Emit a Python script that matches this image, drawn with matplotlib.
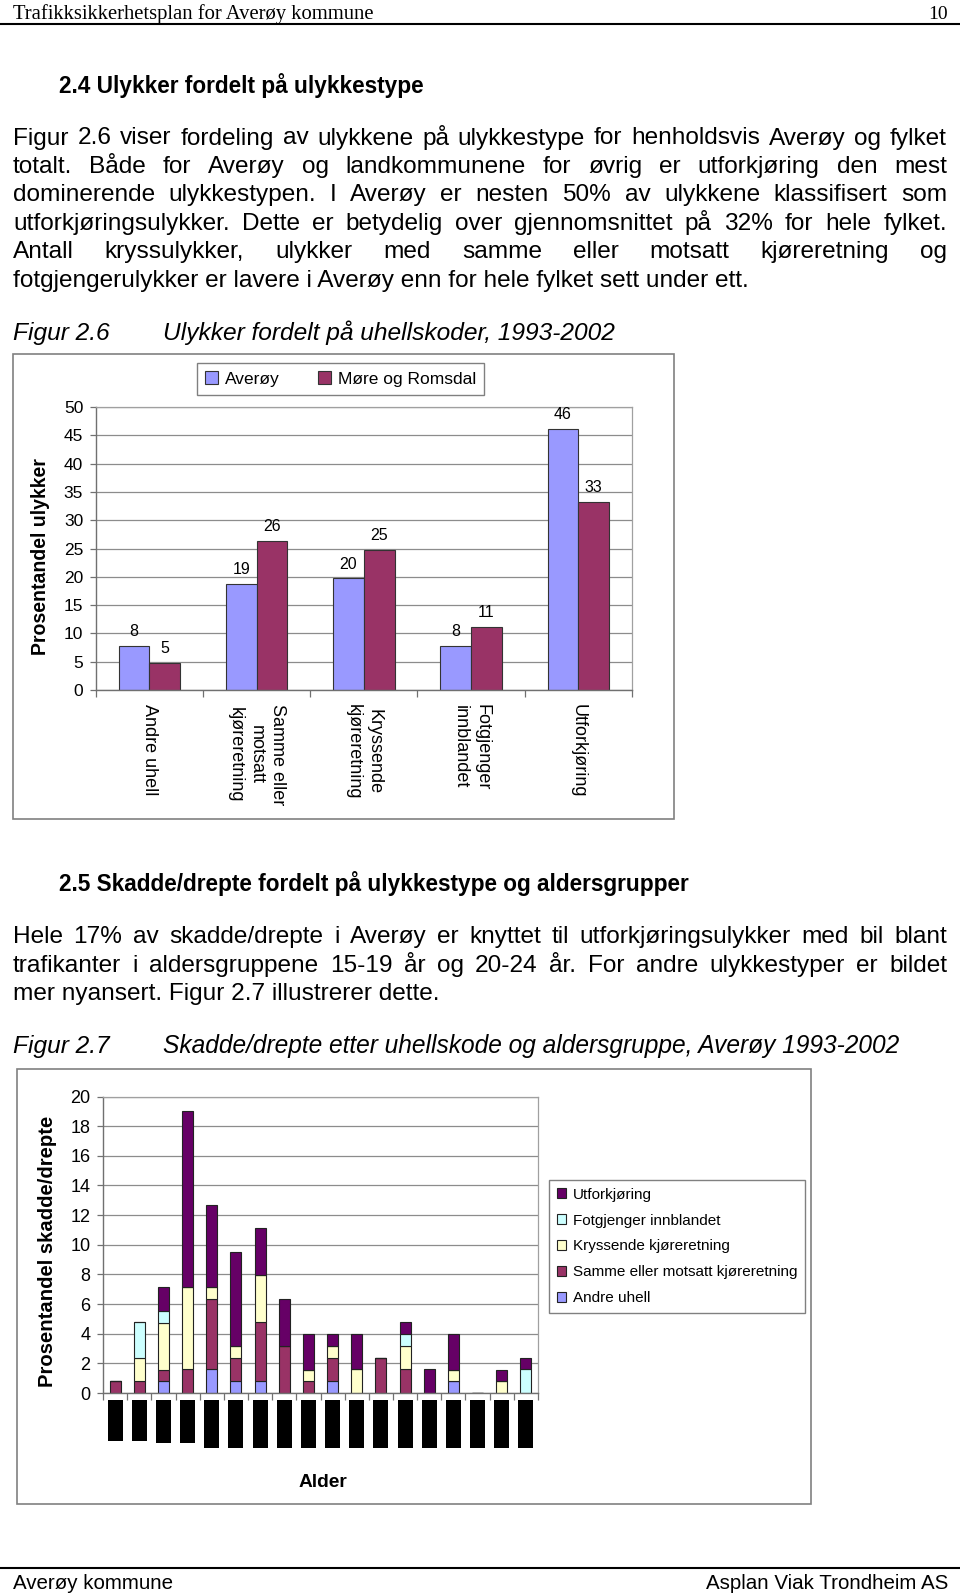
import matplotlib
matplotlib.use("Agg")
import matplotlib.pyplot as plt
import numpy as np
from matplotlib import font_manager
from matplotlib.patches import Rectangle

W, H = 960, 1593

# Figur 2.6 - ulykker fordelt på uhellskoder (prosent)
types_26 = ["Andre uhell", "Samme eller\nmotsatt\nkjøreretning", "Kryssende\nkjøreretning",
            "Fotgjenger\ninnblandet", "Utforkjøring"]
averoy = [7.8, 18.7, 19.7, 7.8, 46.1]
more_romsdal = [4.7, 26.3, 24.8, 11.2, 33.2]

# Figur 2.7 - skadde/drepte etter uhellskode og aldersgruppe (prosent)
ages = ["0-4", "5-9", "10-14", "15-19", "20-24", "25-29", "30-34", "35-39", "40-44",
        "45-49", "50-54", "55-59", "60-64", "65-69", "70-74", "75-79", "80-84", "85+"]
andre_uhell = [0, 0, 0.79, 0, 1.59, 0.79, 0.79, 0, 0, 0.79, 0, 0, 0, 0, 0.79, 0, 0, 0]
samme_motsatt = [0.79, 0.79, 0.79, 1.59, 4.76, 1.59, 3.97, 3.17, 0.79, 1.59, 0, 2.38, 1.59, 0, 0, 0, 0, 0]
kryssende = [0, 1.59, 3.17, 5.56, 0.79, 0.79, 3.17, 0, 0.79, 0.79, 1.59, 0, 1.59, 0, 0.79, 0, 0.79, 0]
fotgjenger = [0, 2.38, 0.79, 0, 0, 0, 0, 0, 0, 0, 0, 0, 0.79, 0, 0, 0, 0, 1.59]
utforkjoring = [0, 0, 1.59, 11.9, 5.56, 6.35, 3.17, 3.17, 2.38, 0.79, 2.38, 0, 0.79, 1.59, 2.38, 0, 0.79, 0.79]

series_27 = [
    ("Andre uhell", andre_uhell, "#9999FF"),
    ("Samme eller motsatt kjøreretning", samme_motsatt, "#993366"),
    ("Kryssende kjøreretning", kryssende, "#FFFFCC"),
    ("Fotgjenger innblandet", fotgjenger, "#CCFFFF"),
    ("Utforkjøring", utforkjoring, "#660066"),
]

names = {f.name for f in font_manager.fontManager.ttflist}
head_font = "Liberation Sans Narrow" if "Liberation Sans Narrow" in names else "Liberation Sans"
body_font = "Liberation Sans"
plt.rcParams["font.family"] = ["Liberation Sans", "DejaVu Sans"]

fig = plt.figure(figsize=(W / 100, H / 100), dpi=100)
renderer = fig.canvas.get_renderer()


def place(x, y, s, target=None, **kw):
    kw.setdefault("ha", "left")
    rot = kw.pop("rotation", 0)
    t = fig.text(x / W, 1 - y / H, s, va="center", **kw)
    if target:
        w = t.get_window_extent(renderer).width
        t.set_fontsize(t.get_fontsize() * target / w)
    if rot == 0:
        # put the baseline where a plain "lp" line would sit, so å/ø do not shift words
        _, h, d = renderer.get_text_width_height_descent("lp", t.get_fontproperties(), ismath=False)
        t.set_va("baseline")
        t.set_y(1 - (y + 2.5 + h / 2 - d) / H)
    t.set_rotation(rot)
    return t


def paragraph(lines, y0, dy, size, x0=13, x1=947):
    for k, line in enumerate(lines):
        y = y0 + k * dy
        if k == len(lines) - 1:
            place(x0, y, line, fontsize=size, family=body_font)
            continue
        words = line.split(" ")
        texts = [place(x0, y, w, fontsize=size, family=body_font) for w in words]
        widths = [t.get_window_extent(renderer).width for t in texts]
        gap = (x1 - x0 - sum(widths)) / (len(words) - 1)
        x = x0
        for t, w in zip(texts, widths):
            t.set_x(x / W)
            x += w + gap


def hline(y, lw=1.5):
    fig.add_artist(plt.Line2D([0, 1], [1 - y / H, 1 - y / H], color="black", lw=lw))


def frame(x0, y0, x1, y1):
    fig.add_artist(Rectangle((x0 / W, 1 - y1 / H), (x1 - x0) / W, (y1 - y0) / H,
                             fill=False, edgecolor="#808080", lw=1.2))


# Page header / footer
place(13, 12, "Trafikksikkerhetsplan for Averøy kommune", target=363, family="Liberation Serif", fontsize=14)
place(948, 12, "10", ha="right", family="Liberation Serif", fontsize=14)
hline(24)
hline(1568)
place(13, 1581, "Averøy kommune", target=161, family=head_font, fontsize=14)
place(948, 1581, "Asplan Viak Trondheim AS", target=244, ha="right", family=head_font, fontsize=14)

# Text
place(59, 84, "2.4 Ulykker fordelt på ulykkestype", target=365, family=head_font, weight="bold", fontsize=14)
probe = place(13, -100, "fotgjengerulykker er lavere i Averøy enn for hele fylket sett under ett.",
              target=742, family=body_font, fontsize=14)
body_size = probe.get_fontsize()
probe.remove()
paragraph([
    "Figur 2.6 viser fordeling av ulykkene på ulykkestype for henholdsvis Averøy og fylket",
    "totalt. Både for Averøy og landkommunene for øvrig er utforkjøring den mest",
    "dominerende ulykkestypen. I Averøy er nesten 50% av ulykkene klassifisert som",
    "utforkjøringsulykker. Dette er betydelig over gjennomsnittet på 32% for hele fylket.",
    "Antall kryssulykker, ulykker med samme eller motsatt kjøreretning og",
    "fotgjengerulykker er lavere i Averøy enn for hele fylket sett under ett.",
], 136, 28.4, body_size)
place(13, 331, "Figur 2.6", target=97, family=body_font, style="italic", fontsize=14)
place(163, 331, "Ulykker fordelt på uhellskoder, 1993-2002", target=454, family=body_font, style="italic", fontsize=14)

place(59, 882, "2.5 Skadde/drepte fordelt på ulykkestype og aldersgrupper", target=630,
      family=head_font, weight="bold", fontsize=14)
paragraph([
    "Hele 17% av skadde/drepte i Averøy er knyttet til utforkjøringsulykker med bil blant",
    "trafikanter i aldersgruppene 15-19 år og 20-24 år. For andre ulykkestyper er bildet",
    "mer nyansert. Figur 2.7 illustrerer dette.",
], 935, 28.4, body_size)
place(13, 1044, "Figur 2.7", target=97, family=body_font, style="italic", fontsize=14)
place(163, 1044, "Skadde/drepte etter uhellskode og aldersgruppe, Averøy 1993-2002", target=740,
      family=body_font, style="italic", fontsize=14)


def style_axes(ax, ysize):
    ax.set_axisbelow(True)
    ax.yaxis.grid(True, color="#8c8c8c", lw=0.9)
    for side in ["top", "right"]:
        ax.spines[side].set_color("#a0a0a0")
        ax.spines[side].set_linewidth(0.9)
    for side in ["left", "bottom"]:
        ax.spines[side].set_color("#707070")
        ax.spines[side].set_linewidth(1.0)
    ax.tick_params(axis="y", length=4, width=0.9, color="#707070", labelsize=ysize, pad=5)
    ax.tick_params(axis="x", which="major", length=0)
    ax.tick_params(axis="x", which="minor", length=5, width=0.9, color="#707070", direction="out")


# Figur 2.6
frame(13, 354, 674, 819)
ax1 = fig.add_axes([95.7 / W, 1 - 690 / H, (632 - 95.7) / W, (690 - 407) / H])
style_axes(ax1, 12.5)
x1 = np.arange(len(types_26))
bw = 0.286
b_av = ax1.bar(x1 - bw / 2, averoy, bw, color="#9999FF", edgecolor="#333333", lw=0.8, label="Averøy")
b_mr = ax1.bar(x1 + bw / 2, more_romsdal, bw, color="#993366", edgecolor="#333333", lw=0.8, label="Møre og Romsdal")
for bars in (b_av, b_mr):
    for rect in bars:
        v = rect.get_height()
        ax1.annotate(f"{v:.0f}", (rect.get_x() + rect.get_width() / 2, v), xytext=(0, 5),
                     textcoords="offset points", ha="center", va="bottom", fontsize=11.5)
ax1.set_xlim(-0.5, len(types_26) - 0.5)
ax1.set_ylim(0, 50)
ax1.set_yticks(np.arange(0, 51, 5))
ax1.set_xticks(x1)
ax1.set_xticks(np.arange(-0.5, len(types_26)), minor=True)
ax1.set_xticklabels(types_26, rotation=-90, va="top", ha="center", fontsize=13, linespacing=1.3)
ax1.tick_params(axis="x", which="major", pad=10)
place(41, 557, "Prosentandel ulykker", target=198, rotation=90, ha="center", weight="bold", fontsize=14)
fig.legend(handles=[b_av, b_mr], loc="center", bbox_to_anchor=(340.5 / W, 1 - 379 / H), ncol=2,
           fontsize=12.5, handlelength=0.75, handleheight=0.75, handletextpad=0.4, columnspacing=2.2,
           borderpad=0.45, fancybox=False, edgecolor="#808080", framealpha=1)

# Figur 2.7
frame(17, 1069, 811, 1504)
ax2_bottom, ax2_top = 1393, 1096.5
ax2 = fig.add_axes([103 / W, 1 - ax2_bottom / H, (538 - 103) / W, (ax2_bottom - ax2_top) / H])
style_axes(ax2, 13)
x2 = np.arange(len(ages))
bottom = np.zeros(len(ages))
handles = []
for name, vals, col in series_27:
    h = ax2.bar(x2, vals, 0.45, bottom=bottom, color=col, edgecolor="#222222", lw=0.8, label=name)
    bottom += np.array(vals)
    handles.append(h)
ax2.set_xlim(-0.5, len(ages) - 0.5)
ax2.set_ylim(0, 20)
ax2.set_yticks(np.arange(0, 21, 2))
ax2.set_xticks(x2)
ax2.set_xticks(np.arange(-0.5, len(ages)), minor=True)
ax2.set_xticklabels([])

# age labels render as solid black blocks in the original
ax_h = ax2_bottom - ax2_top
for i, a in enumerate(ages):
    y_top = (ax2_bottom - 1400) / ax_h
    y_bot = (ax2_bottom - (1441 if i < 2 else 1443 if i < 4 else 1448)) / ax_h
    ax2.add_patch(Rectangle((i - 0.31, y_bot), 0.62, y_top - y_bot, transform=ax2.get_xaxis_transform(),
                            clip_on=False, facecolor="black", edgecolor="none"))
    ax2.text(i, (y_top + y_bot) / 2, a, transform=ax2.get_xaxis_transform(), rotation=90,
             ha="center", va="center", fontsize=8, color="black", clip_on=False)

place(48, 1251, "Prosentandel skadde/drepte", target=272, rotation=90, ha="center", weight="bold", fontsize=14)
place(323, 1480, "Alder", target=49, ha="center", weight="bold", fontsize=14)
fig.legend(handles=handles[::-1], loc="upper left", bbox_to_anchor=(549 / W, 1 - 1180 / H), borderaxespad=0,
           fontsize=11, handlelength=0.6, handleheight=0.6, handletextpad=0.45, labelspacing=0.78,
           borderpad=0.5, fancybox=False, edgecolor="#808080", framealpha=1)

fig.savefig("out.png", dpi=100)
